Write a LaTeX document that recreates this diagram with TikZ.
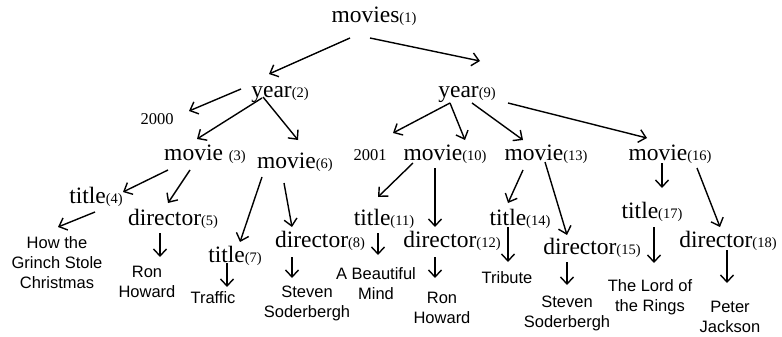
\documentclass[tikz,border=0pt]{standalone}
\usepackage{fontspec}
\setmainfont{Liberation Serif}
\newfontfamily\leaffont{Liberation Sans}
\usetikzlibrary{arrows.meta,calc}
\newcommand\elnum[1]{{\fontsize{14.5}{16}\selectfont(#1)}}
\tikzset{
  xt/elem/.style={
    anchor=base,
    inner sep=0pt,
    font=\fontsize{23.5}{26}\selectfont
  },
  xt/year/.style={
    anchor=base,
    inner sep=0pt,
    font=\fontsize{16.5}{19}\selectfont
  },
  xt/leaf/.style={
    anchor=north,
    inner sep=0pt,
    align=center,
    font=\leaffont\fontsize{16.5}{20}\selectfont
  },
  xt/arrow/.style={-{Straight Barb[length=7pt,width=13pt]}, line width=1.4pt}
}

\begin{document}
\begin{tikzpicture}[x=1pt,y=-1pt]
  \useasboundingbox (0,0) rectangle (782,337);
  % element names
  \foreach \nm/\txt/\x/\y in {
    mv1/movies\elnum{1}/374/23,
    yr2/year\elnum{2}/280/97,yr9/year\elnum{9}/467/97,
    mv3/movie~\elnum{3}/205/160,mv6/movie\elnum{6}/295/168,
    mv10/movie\elnum{10}/445/160,mv13/movie\elnum{13}/546/160,
    mv16/movie\elnum{16}/670/160,
    ti4/title\elnum{4}/96/203,di5/director\elnum{5}/173/225,
    ti7/title\elnum{7}/235/262,di8/director\elnum{8}/320/247,
    ti11/title\elnum{11}/384/225,di12/director\elnum{12}/452/247,
    ti14/title\elnum{14}/520/225,di15/director\elnum{15}/592/254,
    ti17/title\elnum{17}/652/218,di18/director\elnum{18}/728/247}
  {\node[xt/elem] (\nm) at (\x,\y) {\txt};}
  \node[xt/year] (y2000) at (157,124) {2000};
  \node[xt/year] (y2001) at (370,160) {2001};
  % text values
  \foreach \nm/\txt/\x/\y in {
    lf4/{How the\\Grinch Stole\\Christmas}/57/236,
    lf5/{Ron\\Howard}/147/266,lf7/Traffic/213/291,
    lf8/{Steven\\Soderbergh}/307/286,lf11/{A Beautiful\\Mind}/376/267,
    lf12/{Ron\\Howard}/442/292,lf14/Tribute/507/271,
    lf15/{Steven\\Soderbergh}/567/296,lf17/{The Lord of\\the Rings}/650/279,
    lf18/{Peter\\Jackson}/730/301}
  {\node[xt/leaf] (\nm) at (\x,\y) {\txt};}
  % edges
  \foreach \a/\ax/\ay/\b/\bx/\by in {
    mv1.base/-24/15/yr2.base/-11/-23, mv1.base/-4/15/yr9.base/13/-36,
    yr2.base/-39/-8/y2000.base/32/-13, yr2.base/-18/1/mv3.base/-8/-21,
    yr2.base/-17/0/mv6.base/3/-28, yr9.base/-17/6/y2001.base/23/-27,
    yr9.base/-17/6/mv10.base/20/-20, yr9.base/5/6/mv13.base/-23/-20,
    yr9.base/41/6/mv16.base/-23/-22,
    mv3.base/-37/10/ti4.base/27/-11, mv3.base/-15/10/di5.base/-5/-22,
    mv6.base/-33/9/ti7.base/5/-20, mv6.base/-11/15/di8.base/-28/-20,
    ti4.base/-1/9/lf4.north/1/-9, di5.base/-13/8/lf5.north/13/-9,
    ti7.base/-8/1/lf7.north/14/-4, di8.base/-28/10/lf8.north/-15/-8,
    mv10.base/-32/3/ti11.base/-6/-28, mv10.base/-10/8/di12.base/-17/-20,
    ti11.base/-6/8/lf11.north/2/-12, di12.base/-17/10/lf12.north/-7/-14,
    mv13.base/-23/10/ti14.base/-12/-22, mv13.base/-1/2/di15.base/-25/-19,
    ti14.base/-12/2/lf14.north/1/-9, di15.base/-25/8/lf15.north/0/-11,
    mv16.base/-8/3/ti17.base/10/-30, mv16.base/27/8/di18.base/-8/-20,
    ti17.base/2/9/lf17.north/4/-16, di18.base/-1/3/lf18.north/-3/-18}
  {\draw[xt/arrow] ($(\a)+(\ax,\ay)$) -- ($(\b)+(\bx,\by)$);}
\end{tikzpicture}
\end{document}
